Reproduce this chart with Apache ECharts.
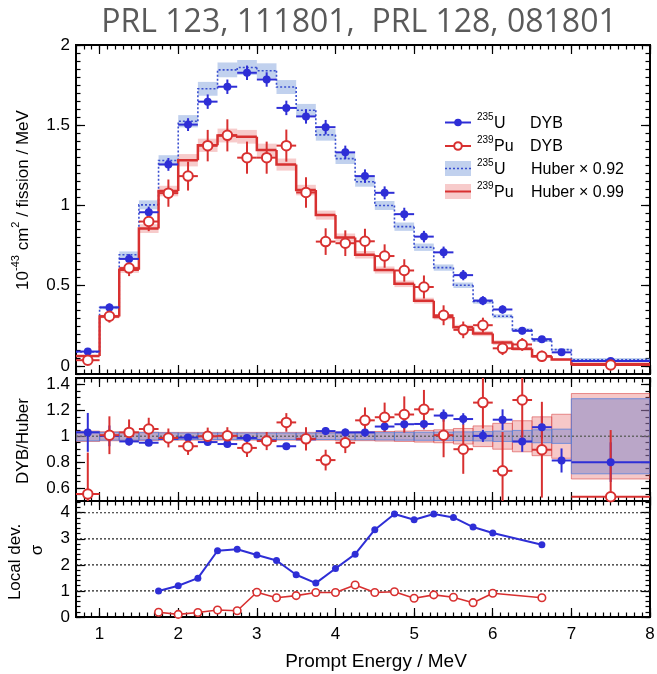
<!DOCTYPE html>
<html>
<head>
<meta charset="utf-8">
<script src="https://cdn.jsdelivr.net/npm/echarts@6/dist/echarts.min.js"></script>
<style>html,body{margin:0;padding:0;background:#fff}#c{width:657px;height:674px}</style>
</head>
<body>
<div id="c"></div>
<script>
// ---------------- data ----------------
const binEdges = [0.7,1.0,1.25,1.5,1.75,2.0,2.25,2.5,2.75,3.0,3.25,3.5,3.75,4.0,4.25,4.5,4.75,5.0,5.25,5.5,5.75,6.0,6.25,6.5,6.75,7.0,8.0];
const binCenters = [0.85,1.125,1.375,1.625,1.875,2.125,2.375,2.625,2.875,3.125,3.375,3.625,3.875,4.125,4.375,4.625,4.875,5.125,5.375,5.625,5.875,6.125,6.375,6.625,6.875,7.5];

const u235Dyb    = [0.09,0.365,0.667,0.958,1.256,1.504,1.647,1.74,1.827,1.785,1.608,1.555,1.488,1.331,1.183,1.079,0.946,0.806,0.708,0.566,0.407,0.352,0.219,0.167,0.085,0.031];
const u235DybErr = [0.015,0.025,0.03,0.035,0.04,0.04,0.045,0.045,0.045,0.045,0.045,0.045,0.045,0.042,0.042,0.04,0.04,0.036,0.036,0.032,0.028,0.026,0.022,0.02,0.016,0.006];
const pu239Dyb    = [0.036,0.31,0.61,0.90,1.077,1.183,1.373,1.437,1.298,1.298,1.373,1.081,0.775,0.765,0.777,0.685,0.595,0.492,0.316,0.225,0.254,0.11,0.134,0.06,null,0.006];
const pu239DybErr = [0.03,0.04,0.05,0.06,0.085,0.09,0.098,0.1,0.1,0.1,0.1,0.095,0.083,0.08,0.078,0.073,0.07,0.072,0.062,0.052,0.047,0.042,0.04,0.035,null,0.006];

const u235Huber  = [0.088,0.364,0.693,1.004,1.28,1.525,1.727,1.845,1.86,1.84,1.738,1.593,1.44,1.292,1.148,1.0,0.868,0.74,0.613,0.503,0.402,0.31,0.225,0.158,0.102,0.038];
const pu239Huber = [0.062,0.308,0.6,0.856,1.09,1.282,1.375,1.436,1.428,1.345,1.255,1.096,0.94,0.8,0.693,0.598,0.512,0.407,0.305,0.242,0.202,0.146,0.107,0.06,0.04,0.012];
const u235HuberRelErr  = [0.035,0.03,0.03,0.028,0.026,0.025,0.025,0.025,0.025,0.025,0.025,0.025,0.025,0.026,0.027,0.028,0.03,0.031,0.032,0.034,0.036,0.04,0.045,0.05,0.055,0.29];
const pu239HuberRelErr = [0.04,0.035,0.033,0.032,0.03,0.03,0.03,0.03,0.03,0.03,0.03,0.03,0.03,0.032,0.034,0.037,0.04,0.045,0.05,0.06,0.08,0.1,0.12,0.15,0.17,0.33];

const u235Ratio     = [1.03,1.003,0.96,0.95,0.98,0.99,0.955,0.94,0.987,0.968,0.923,0.976,1.04,1.03,1.03,1.075,1.093,1.095,1.16,1.133,1.003,1.128,0.96,1.07,0.813,0.8];
const u235RatioErr  = [0.15,0.08,0.03,0.025,0.025,0.025,0.025,0.025,0.025,0.025,0.025,0.028,0.03,0.03,0.032,0.038,0.04,0.042,0.047,0.045,0.047,0.08,0.08,0.087,0.093,0.153];
const pu239Ratio    = [0.554,1.008,1.03,1.056,0.987,0.923,1.0,1.003,0.91,0.963,1.107,0.98,0.816,0.95,1.123,1.147,1.168,1.208,1.008,0.9,1.26,0.733,1.28,0.896,null,0.533];
const pu239RatioErr = [0.32,0.146,0.1,0.087,0.073,0.067,0.067,0.067,0.07,0.07,0.072,0.09,0.08,0.08,0.1,0.113,0.14,0.15,0.17,0.19,0.2,0.3,0.3,0.37,null,0.515];

const localDevEnergy = [1.75,2.0,2.25,2.5,2.75,3.0,3.25,3.5,3.75,4.0,4.25,4.5,4.75,5.0,5.25,5.5,5.75,6.0,6.625];
const localDevU235   = [1.0,1.2,1.49,2.54,2.6,2.38,2.17,1.62,1.3,1.86,2.41,3.35,3.95,3.73,3.95,3.82,3.45,3.22,2.77];
const localDevPu239  = [0.18,0.1,0.17,0.27,0.24,0.95,0.74,0.82,0.94,0.94,1.23,0.94,0.97,0.72,0.85,0.76,0.55,0.91,0.74];

const xMajorTicks    = [1,2,3,4,5,6,7,8];
const yTopTicks      = [0,0.5,1,1.5,2];
const yRatioTicks    = [0.6,0.8,1,1.2,1.4];
const yDevTicks      = [0,1,2,3,4];
const devGridLines   = [1,2,3,4];
const ratioRefValue  = 1;

// ---------------- styling ----------------
const FONT = 'Liberation Sans, Arial, sans-serif';
const BLUE = '#2e2ed6';
const RED = '#d83030';
const BLUE_BAND = 'rgba(100,140,212,0.40)';
const RED_BAND = 'rgba(232,105,105,0.35)';

const xAxis = [], yAxis = [];
function addAxes(gi, yMin, yMax, yMajorVals, yMinorInt, showXLabel) {
  const tickStyle = {color:'#000', width:1.2};
  const base = {gridIndex:gi, type:'value', axisLine:{show:false, onZero:false}, splitLine:{show:false}, silent:true};
  ['bottom','top'].forEach(pos => {
    xAxis.push(Object.assign({}, base, {position:pos, min:0.7, max:8,
      axisTick:{inside:true, length:9, lineStyle:tickStyle, customValues:xMajorTicks},
      axisLabel:{show: showXLabel && pos==='bottom', customValues:xMajorTicks, margin:9, fontSize:17, color:'#000', fontFamily:FONT}}));
    xAxis.push(Object.assign({}, base, {position:pos, min:0.7, max:8, interval:0.1,
      axisTick:{inside:true, length:4.5, lineStyle:tickStyle}, axisLabel:{show:false}}));
  });
  ['left','right'].forEach(pos => {
    yAxis.push(Object.assign({}, base, {position:pos, min:yMin, max:yMax,
      axisTick:{inside:true, length:9, lineStyle:tickStyle, customValues:yMajorVals},
      axisLabel:{show: pos==='left', customValues:yMajorVals, margin:6, fontSize:17, color:'#000', fontFamily:FONT}}));
    yAxis.push(Object.assign({}, base, {position:pos, min:yMin, max:yMax, interval:yMinorInt,
      axisTick:{inside:true, length:4.5, lineStyle:tickStyle}, axisLabel:{show:false}}));
  });
}
addAxes(0, -0.05, 2, yTopTicks, 0.05, false);
addAxes(1, 0.5, 1.45, yRatioTicks, 0.05, false);
addAxes(2, 0, 4.45, yDevTicks, 0.2, true);
const AX = [0, 4, 8];

function bandSeries(gi, vals, rel, fill, stroke, z) {
  const data = vals.map((v,i) => [binEdges[i], binEdges[i+1], v*(1-rel[i]), v*(1+rel[i])]);
  return {type:'custom', xAxisIndex:AX[gi], yAxisIndex:AX[gi], clip:true, z, silent:true,
    encode:{x:[0,1], y:[2,3]}, data,
    renderItem(params, api) {
      const a = api.coord([api.value(0), api.value(3)]);
      const b = api.coord([api.value(1), api.value(2)]);
      return {type:'rect', shape:{x:a[0], y:a[1], width:b[0]-a[0], height:b[1]-a[1]},
        style:{fill, stroke: stroke || null, lineWidth: stroke ? 1 : 0}};
    }};
}
function stepSeries(gi, vals, color, lw, dash, z) {
  const data = vals.map((v,i) => [binEdges[i], binEdges[i+1], v, i>0 ? vals[i-1] : v]);
  return {type:'custom', xAxisIndex:AX[gi], yAxisIndex:AX[gi], clip:true, z, silent:true,
    encode:{x:[0,1], y:2}, data,
    renderItem(params, api) {
      const p0 = api.coord([api.value(0), api.value(3)]);
      const p1 = api.coord([api.value(0), api.value(2)]);
      const p2 = api.coord([api.value(1), api.value(2)]);
      return {type:'polyline', shape:{points:[p0,p1,p2]},
        style:{stroke:color, lineWidth:lw, lineDash:dash || null, fill:null}};
    }};
}
function errSeries(gi, ys, errs, color, lw, z) {
  const data = [];
  binCenters.forEach((x,i) => {
    if (ys[i] == null) return;
    data.push([x, ys[i], binEdges[i], binEdges[i+1], ys[i]-errs[i], ys[i]+errs[i]]);
  });
  return {type:'custom', xAxisIndex:AX[gi], yAxisIndex:AX[gi], clip:true, z, silent:true,
    encode:{x:0, y:1}, data,
    renderItem(params, api) {
      const c = api.coord([api.value(0), api.value(1)]);
      const l = api.coord([api.value(2), api.value(1)]);
      const r = api.coord([api.value(3), api.value(1)]);
      const b = api.coord([api.value(0), api.value(4)]);
      const t = api.coord([api.value(0), api.value(5)]);
      return {type:'group', children:[
        {type:'line', shape:{x1:l[0], y1:c[1], x2:r[0], y2:c[1]}, style:{stroke:color, lineWidth:lw}},
        {type:'line', shape:{x1:c[0], y1:t[1], x2:c[0], y2:b[1]}, style:{stroke:color, lineWidth:lw}}
      ]};
    }};
}
function markerSeries(gi, ys, filled, z) {
  const data = [];
  binCenters.forEach((x,i) => { if (ys[i] != null) data.push([x, ys[i]]); });
  return {type:'scatter', xAxisIndex:AX[gi], yAxisIndex:AX[gi], z, silent:true, clip:true,
    symbol:'circle', symbolSize: filled ? 8 : 9.5, data,
    itemStyle: filled ? {color:BLUE, opacity:1} : {color:'#ffffff', borderColor:RED, borderWidth:2, opacity:1}};
}
function hLineSeries(gi, vals, color, lw, dash, z) {
  return {type:'custom', xAxisIndex:AX[gi], yAxisIndex:AX[gi], clip:true, z, silent:true,
    encode:{y:0}, data: vals.map(v => [v]),
    renderItem(params, api) {
      const cs = params.coordSys;
      const p = api.coord([0.7, api.value(0)]);
      return {type:'line', shape:{x1:cs.x, y1:p[1], x2:cs.x+cs.width, y2:p[1]},
        style:{stroke:color, lineWidth:lw, lineDash:dash}};
    }};
}

const series = [
  // top panel
  bandSeries(0, u235Huber, u235HuberRelErr, BLUE_BAND, null, 1),
  bandSeries(0, pu239Huber, pu239HuberRelErr, RED_BAND, null, 1),
  stepSeries(0, u235Huber, '#3a4fd0', 1.6, [2,2], 2),
  stepSeries(0, pu239Huber, RED, 2.5, null, 2),
  errSeries(0, u235Dyb, u235DybErr, BLUE, 2, 3),
  errSeries(0, pu239Dyb, pu239DybErr, RED, 2, 3),
  markerSeries(0, u235Dyb, true, 4),
  markerSeries(0, pu239Dyb, false, 4),
  // ratio panel
  bandSeries(1, pu239Huber.map(() => ratioRefValue), pu239HuberRelErr, 'rgba(232,110,110,0.38)', 'rgba(215,60,60,0.55)', 1),
  bandSeries(1, u235Huber.map(() => ratioRefValue), u235HuberRelErr, 'rgba(90,110,200,0.38)', 'rgba(90,130,220,0.8)', 1),
  hLineSeries(1, [ratioRefValue], '#666', 1.3, [2,2], 2),
  errSeries(1, u235Ratio, u235RatioErr, BLUE, 2, 3),
  errSeries(1, pu239Ratio, pu239RatioErr, RED, 2, 3),
  markerSeries(1, u235Ratio, true, 4),
  markerSeries(1, pu239Ratio, false, 4),
  // local deviation panel
  hLineSeries(2, devGridLines, '#222', 1.2, [2,2], 1),
  {type:'line', xAxisIndex:AX[2], yAxisIndex:AX[2], z:3, silent:true, symbol:'circle', symbolSize:7,
    data: localDevEnergy.map((x,i) => [x, localDevU235[i]]),
    lineStyle:{color:BLUE, width:2}, itemStyle:{color:BLUE, opacity:1}},
  {type:'line', xAxisIndex:AX[2], yAxisIndex:AX[2], z:3, silent:true, symbol:'circle', symbolSize:7.5,
    data: localDevEnergy.map((x,i) => [x, localDevPu239[i]]),
    lineStyle:{color:RED, width:1.6}, itemStyle:{color:'#ffffff', borderColor:RED, borderWidth:1.6, opacity:1}}
];

function txt(x, y, text, size, extra) {
  return Object.assign({type:'text', x, y, silent:true, style:{text, fontSize:size, fontFamily:FONT, fill:'#000',
    align:'left', verticalAlign:'middle', textAlign:'left', textVerticalAlign:'middle'}}, extra || {});
}
const graphic = [
  {type:'text', x:359, y:23, silent:true, style:{text:'PRL 123, 111801,  PRL 128, 081801', fontSize:32,
    fontFamily:'Open Sans, Liberation Sans, sans-serif', fill:'#5a5a5a', align:'center', verticalAlign:'middle', textAlign:'center', textVerticalAlign:'middle'}},
  // legend
  {type:'line', silent:true, shape:{x1:445, y1:122.5, x2:471, y2:122.5}, style:{stroke:BLUE, lineWidth:2}},
  {type:'circle', silent:true, shape:{cx:458, cy:122.5, r:3.8}, style:{fill:BLUE}},
  txt(477, 117, '235', 10), txt(494, 123.5, 'U', 16), txt(530, 123.5, 'DYB', 16),
  {type:'line', silent:true, shape:{x1:445, y1:146, x2:471, y2:146}, style:{stroke:RED, lineWidth:2}},
  {type:'circle', silent:true, shape:{cx:458, cy:146, r:3.8}, style:{fill:'#fff', stroke:RED, lineWidth:2}},
  txt(477, 140.5, '239', 10), txt(494, 147, 'Pu', 16), txt(530, 147, 'DYB', 16),
  {type:'rect', silent:true, shape:{x:445, y:161, width:26, height:15}, style:{fill:BLUE_BAND}},
  {type:'line', silent:true, shape:{x1:445, y1:168.5, x2:471, y2:168.5}, style:{stroke:'#3a4fd0', lineWidth:1.5, lineDash:[2,2]}},
  txt(477, 163, '235', 10), txt(494, 169.5, 'U', 16), txt(531, 169.5, 'Huber \u00d7 0.92', 16),
  {type:'rect', silent:true, shape:{x:445, y:184, width:26, height:15}, style:{fill:RED_BAND}},
  {type:'line', silent:true, shape:{x1:445, y1:191.5, x2:471, y2:191.5}, style:{stroke:RED, lineWidth:2}},
  txt(477, 186, '239', 10), txt(494, 192.5, 'Pu', 16), txt(531, 192.5, 'Huber \u00d7 0.99', 16),
  // axis titles
  {type:'text', x:21, y:200, rotation:Math.PI/2, silent:true, style:{
    text:'{n|10}{s|-43}{n| cm}{s|2}{n| / fission / MeV}', align:'center', verticalAlign:'middle', textAlign:'center', textVerticalAlign:'middle',
    rich:{n:{fontSize:17, fontFamily:FONT, fill:'#000', lineHeight:21, verticalAlign:'bottom'},
          s:{fontSize:11, fontFamily:FONT, fill:'#000', lineHeight:21, verticalAlign:'top'}}}},
  {type:'text', x:23, y:441, rotation:Math.PI/2, silent:true, style:{text:'DYB/Huber', fontSize:17, fontFamily:FONT, fill:'#000',
    align:'center', verticalAlign:'middle', textAlign:'center', textVerticalAlign:'middle'}},
  {type:'text', x:15, y:562, rotation:Math.PI/2, silent:true, style:{text:'Local dev.', fontSize:17, fontFamily:FONT, fill:'#000',
    align:'center', verticalAlign:'middle', textAlign:'center', textVerticalAlign:'middle'}},
  {type:'text', x:37, y:550, rotation:Math.PI/2, silent:true, style:{text:'\u03c3', fontSize:17, fontFamily:FONT, fill:'#000',
    align:'center', verticalAlign:'middle', textAlign:'center', textVerticalAlign:'middle'}},
  {type:'text', x:376, y:662, silent:true, style:{text:'Prompt Energy / MeV', fontSize:19, fontFamily:FONT, fill:'#000',
    align:'center', verticalAlign:'middle', textAlign:'center', textVerticalAlign:'middle'}}
];

const chart = echarts.init(document.getElementById('c'), null, {renderer:'canvas'});
chart.setOption({
  animation:false,
  backgroundColor:'#fff',
  grid:[
    {left:76, right:7, top:45, height:329, show:true, borderColor:'#000', borderWidth:2, backgroundColor:'transparent', containLabel:false, outerBoundsMode:'none'},
    {left:76, right:7, top:378, height:123, show:true, borderColor:'#000', borderWidth:2, backgroundColor:'transparent', containLabel:false, outerBoundsMode:'none'},
    {left:76, right:7, top:501, height:116, show:true, borderColor:'#000', borderWidth:2, backgroundColor:'transparent', containLabel:false, outerBoundsMode:'none'}
  ],
  xAxis, yAxis, series, graphic
});
</script>
</body>
</html>
